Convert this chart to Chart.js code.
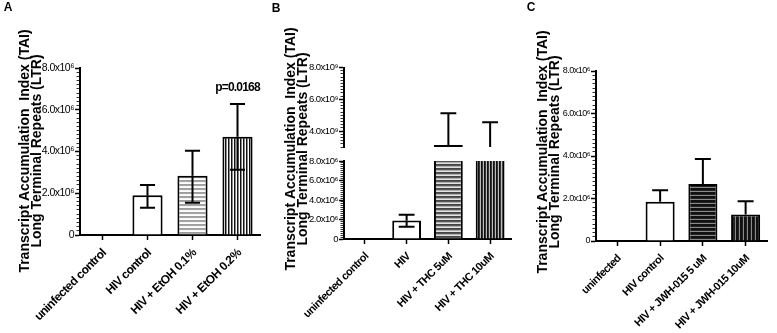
<!DOCTYPE html>
<html>
<head>
<meta charset="utf-8">
<script src="https://cdn.jsdelivr.net/npm/chart.js@4/dist/chart.umd.min.js"></script>
<style>
  html, body { margin: 0; padding: 0; background: #fff; }
  #figure { position: relative; width: 777px; height: 333px; overflow: hidden; background: #fff; }
  #figure canvas { position: absolute; top: 0; }
</style>
</head>
<body>
<div id="figure">
  <canvas id="panelA" style="left:0px" width="262" height="333"></canvas>
  <canvas id="panelBHigh" style="left:262px" width="255" height="333"></canvas>
  <canvas id="panelBLow" style="left:262px" width="255" height="333"></canvas>
  <canvas id="panelC" style="left:520px" width="257" height="333"></canvas>
</div>
<script>
// ---- data ----
const yTitleLines = ['Transcript Accumulation  Index (TAI)', 'Long Terminal Repeats (LTR)'];

// Panel A: ethanol
const etohLabels  = ['uninfected control', 'HIV control', 'HIV + EtOH 0.1%', 'HIV + EtOH 0.2%'];
const etohMeans   = [0, 1.9e6, 2.84e6, 4.71e6];
const etohErrHigh = [null, 2.4e6, 4.03e6, 6.27e6];
const etohErrLow  = [null, 1.3e6, 1.55e6, 3.12e6];
const etohPValue  = 'p=0.0168';

// Panel B: THC (broken axis)
const thcLabels  = ['uninfected control', 'HIV', 'HIV + THC 5uM', 'HIV + THC 10uM'];
const thcMeans   = [0, 1.9e6, 3.12e9, 2.6e9];
const thcErrHigh = [null, 2.5e6, 5.13e9, 4.55e9];
const thcErrLow  = [null, 1.26e6, null, null];

// Panel C: JWH-015
const jwhLabels  = ['uninfected', 'HIV control', 'HIV + JWH-015 5 uM', 'HIV + JWH-015 10uM'];
const jwhMeans   = [0, 1.85e6, 2.68e6, 1.25e6];
const jwhErrHigh = [null, 2.39e6, 3.86e6, 1.87e6];

// axis tick values that carry a label
const lowAxisMajors  = [0, 2e6, 4e6, 6e6, 8e6];
const highAxisMajors = [4e9, 6e9, 8e9];

// ---- helpers ----
const SANS = "'Liberation Sans',Arial,Helvetica,sans-serif";
const TICK_SPACING = '-0.5px';   // tighter tracking for the axis labels
const SUP = {'0':'\u2070','1':'\u00b9','2':'\u00b2','3':'\u00b3','4':'\u2074','5':'\u2075','6':'\u2076','7':'\u2077','8':'\u2078','9':'\u2079'};

function sciLabel(v, exp) {
  if (v === 0) return '0';
  const mant = (v / Math.pow(10, exp)).toFixed(1);
  return mant + 'x10' + String(exp).split('').map(d => SUP[d]).join('');
}

function stripes(canvasId, vertical, colors) {
  const c = document.createElement('canvas');
  c.width = vertical ? colors.length : 1;
  c.height = vertical ? 1 : colors.length;
  const g = c.getContext('2d');
  colors.forEach((col, k) => {
    g.fillStyle = col;
    if (vertical) g.fillRect(k, 0, 1, 1); else g.fillRect(0, k, 1, 1);
  });
  return document.getElementById(canvasId).getContext('2d').createPattern(c, 'repeat');
}

function valueAxis({min, max, minor, majors, exp, width, fontSize}) {
  const isMajor = v => majors.some(m => Math.abs(m - v) < minor / 10);
  return {
    type: 'linear', min, max,
    afterFit: s => { s.width = width; },
    border: {display: true, color: '#000', width: 2},
    grid: {
      drawOnChartArea: false, drawTicks: true, tickLength: 5,
      tickColor: c => (c.tick && isMajor(c.tick.value)) ? '#000' : '#333',
      tickWidth: c => (c.tick && isMajor(c.tick.value)) ? 1.5 : 1,
      tickBorderDash: c => (c.tick && isMajor(c.tick.value)) ? [] : [0, 1.5, 3, 20]
    },
    ticks: {
      stepSize: minor, autoSkip: false, padding: 1, color: '#000',
      font: {family: SANS, size: fontSize},
      callback: v => isMajor(v) ? sciLabel(v, exp) : ''
    }
  };
}

function categoryAxis(height, show, fontSize) {
  if (!show) return {type: 'category', display: false, offset: true};
  return {
    type: 'category', offset: true,
    afterFit: s => { s.height = height; },
    border: {display: true, color: '#000', width: 2},
    grid: {offset: false, drawOnChartArea: false, tickLength: 5, tickWidth: 1.5, tickColor: '#000'},
    ticks: {
      autoSkip: false, minRotation: 45, maxRotation: 45, padding: 6, labelOffset: 2, color: '#000',
      font: {family: SANS, size: fontSize, weight: 'bold'}
    }
  };
}

// error bars drawn through the chart's own scales
const errorBars = {
  id: 'errorBars',
  afterDatasetsDraw(chart, args, opts) {
    if (!opts || !opts.high) return;
    const {ctx, chartArea} = chart;
    const yScale = chart.scales.y;
    const meta = chart.getDatasetMeta(0);
    const means = chart.data.datasets[0].data;
    ctx.save();
    ctx.beginPath();
    ctx.rect(chartArea.left, chartArea.top, chartArea.right - chartArea.left, chartArea.bottom - chartArea.top);
    ctx.clip();
    ctx.strokeStyle = '#000';
    ctx.lineWidth = 2;
    meta.data.forEach((bar, i) => {
      const cx = bar.x;
      const half = bar.width * opts.capRatio / 2;
      const pm = yScale.getPixelForValue(means[i]);
      [opts.high ? opts.high[i] : null, opts.low ? opts.low[i] : null].forEach(v => {
        if (v === null || v === undefined) return;
        const pv = yScale.getPixelForValue(v);
        ctx.beginPath();
        ctx.moveTo(cx, pm); ctx.lineTo(cx, pv);
        ctx.moveTo(cx - half, pv); ctx.lineTo(cx + half, pv);
        ctx.stroke();
      });
    });
    ctx.restore();
  }
};

// panel letter, two-line axis title and significance label
const panelText = {
  id: 'panelText',
  beforeDraw(chart) {
    if ('letterSpacing' in chart.ctx) chart.ctx.letterSpacing = TICK_SPACING;
  },
  afterDraw(chart, args, opts) {
    const ctx = chart.ctx;
    if ('letterSpacing' in ctx) ctx.letterSpacing = '0px';
    ctx.save();
    ctx.fillStyle = '#000';
    if (opts.letter) {
      ctx.font = 'bold 12px ' + SANS;
      ctx.textAlign = 'center';
      ctx.textBaseline = 'middle';
      ctx.fillText(opts.letter.text, opts.letter.x, opts.letter.y);
    }
    if (opts.title) {
      ctx.font = 'bold ' + opts.title.size + 'px ' + SANS;
      ctx.textAlign = 'center';
      ctx.textBaseline = 'alphabetic';
      opts.title.lines.forEach((line, k) => {
        ctx.save();
        ctx.translate(opts.title.x[k], opts.title.cy);
        ctx.rotate(-Math.PI / 2);
        ctx.fillText(line, 0, 0);
        ctx.restore();
      });
    }
    if (opts.pLabel) {
      const p = opts.pLabel;
      const x = chart.scales.x.getPixelForValue(p.index);
      const y = chart.scales.y.getPixelForValue(p.value);
      ctx.font = 'bold 12px ' + SANS;
      if ('letterSpacing' in ctx) ctx.letterSpacing = '-0.8px';
      ctx.textAlign = 'center';
      ctx.textBaseline = 'bottom';
      ctx.fillText(p.text, x, y - p.gap);
    }
    ctx.restore();
  }
};

function barChart(id, cfg) {
  return new Chart(document.getElementById(id), {
    type: 'bar',
    data: {
      labels: cfg.labels,
      datasets: [{
        data: cfg.values,
        backgroundColor: cfg.fills,
        borderColor: '#000',
        borderWidth: 2,
        barPercentage: cfg.barPct,
        categoryPercentage: 1
      }]
    },
    options: {
      responsive: false,
      animation: false,
      events: [],
      layout: {padding: cfg.padding},
      scales: {x: cfg.x, y: cfg.y},
      plugins: {
        legend: {display: false},
        tooltip: {enabled: false},
        title: {display: false},
        errorBars: cfg.errors || {},
        panelText: cfg.text || {}
      }
    },
    plugins: [errorBars, panelText]
  });
}

// ---- panel A ----
barChart('panelA', {
  labels: etohLabels,
  values: etohMeans,
  fills: ['#fff', '#fff',
          stripes('panelA', false, ['#9c9c9c', '#a8a8a8', '#f4f4f4', '#ffffff']),
          stripes('panelA', true, ['#111', '#888', '#fff'])],
  barPct: 0.67,
  padding: {left: 0, right: 2, top: 68, bottom: 0},
  x: categoryAxis(98, true, 12),
  y: valueAxis({min: 0, max: 8e6, minor: 2e5, majors: lowAxisMajors, exp: 6, width: 80, fontSize: 10.5}),
  errors: {high: etohErrHigh, low: etohErrLow, capRatio: 0.5},
  text: {
    letter: {text: 'A', x: 8, y: 8},
    title: {lines: yTitleLines, x: [29, 41], cy: 151, size: 14},
    pLabel: {text: etohPValue, index: 3, value: etohErrHigh[3], gap: 10}
  }
});

// ---- panel B, upper segment ----
const thcFillsFor = id => ['#fff', '#fff',
  stripes(id, false, ['#444', '#555', '#b0b0b0', '#e0e0e0']),
  stripes(id, true, ['#111', '#333', '#bbb'])];

barChart('panelBHigh', {
  labels: thcLabels,
  values: thcMeans,
  fills: thcFillsFor('panelBHigh'),
  barPct: 0.69,
  padding: {left: 0, right: 6, top: 67.5, bottom: 186},
  x: categoryAxis(0, false, 11),
  y: valueAxis({min: 3e9, max: 8e9, minor: 2e8, majors: highAxisMajors, exp: 9, width: 82, fontSize: 9.5}),
  errors: {high: thcErrHigh, low: thcErrLow, capRatio: 0.55},
  text: {
    letter: {text: 'B', x: 14, y: 9},
    title: {lines: yTitleLines, x: [33, 45], cy: 149, size: 14}
  }
});

// ---- panel B, lower segment ----
barChart('panelBLow', {
  labels: thcLabels,
  values: thcMeans,
  fills: thcFillsFor('panelBLow'),
  barPct: 0.69,
  padding: {left: 0, right: 6, top: 161, bottom: 0},
  x: categoryAxis(94, true, 11),
  y: valueAxis({min: 0, max: 8e6, minor: 2e5, majors: lowAxisMajors, exp: 6, width: 82, fontSize: 9.5}),
  errors: {high: thcErrHigh, low: thcErrLow, capRatio: 0.55}
});

// ---- panel C ----
barChart('panelC', {
  labels: jwhLabels,
  values: jwhMeans,
  fills: ['#fff', '#fff',
          stripes('panelC', false, ['#111', '#111', '#222', '#8a8a8a']),
          stripes('panelC', true, ['#111', '#111', '#222', '#8a8a8a'])],
  barPct: 0.68,
  padding: {left: 0, right: 10, top: 71, bottom: 0},
  x: categoryAxis(92, true, 11),
  y: valueAxis({min: 0, max: 8e6, minor: 2e5, majors: lowAxisMajors, exp: 6, width: 76, fontSize: 9}),
  errors: {high: jwhErrHigh, capRatio: 0.55},
  text: {
    letter: {text: 'C', x: 11, y: 8},
    title: {lines: yTitleLines, x: [27, 39], cy: 152, size: 14}
  }
});
</script>
</body>
</html>
